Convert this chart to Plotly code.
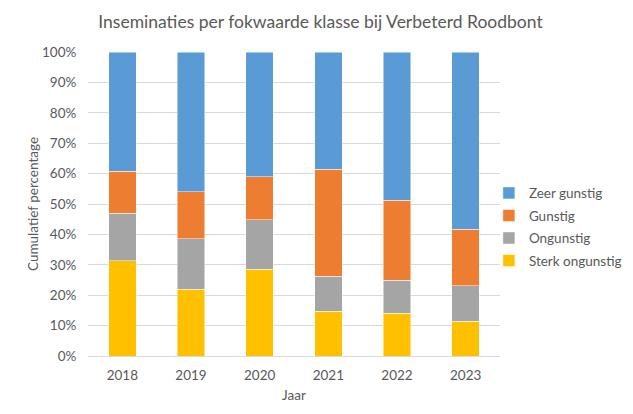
import plotly.graph_objects as go

years = ["2018", "2019", "2020", "2021", "2022", "2023"]
sterk_ongunstig = [31.4, 22.0, 28.5, 14.8, 14.1, 11.5]
ongunstig = [15.5, 16.6, 16.3, 11.4, 10.9, 11.6]
gunstig = [13.8, 15.5, 14.1, 35.3, 26.3, 18.6]
zeer_gunstig = [39.3, 45.9, 41.1, 38.5, 48.7, 58.3]
y_ticks = list(range(0, 101, 10))

series = [
    ("Sterk ongunstig", sterk_ongunstig, "#FFC000"),
    ("Ongunstig", ongunstig, "#A5A5A5"),
    ("Gunstig", gunstig, "#ED7D31"),
    ("Zeer gunstig", zeer_gunstig, "#5B9BD5"),
]

fig = go.Figure()
for i, (name, vals, col) in enumerate(series):
    fig.add_trace(go.Bar(x=years, y=vals, name=name, legendgroup=name, legendrank=1000 - i,
                         marker=dict(color=col, line=dict(color="rgba(255,255,255,0.6)", width=0.8))))

font = "Lato, 'Open Sans', sans-serif"
fig.update_layout(
    barmode="stack",
    bargap=0.6,
    width=625, height=406,
    margin=dict(l=80, r=133, t=44, b=58, autoexpand=False),
    paper_bgcolor="white", plot_bgcolor="white",
    font=dict(family=font, color="#595959", size=13),
    title=dict(text="Inseminaties per fokwaarde klasse bij Verbeterd Roodbont", x=0.5, xanchor="center", y=0.966, yanchor="middle",
               font=dict(size=17.5, color="#595959", family=font)),
    legend=dict(traceorder="grouped", x=0.973, xanchor="left", y=0.424, yanchor="middle",
                font=dict(size=13.5, color="#595959"), tracegroupgap=2, bgcolor="rgba(0,0,0,0)"),
    xaxis=dict(title=dict(text="Jaar", font=dict(size=13.5), standoff=8), showgrid=False, showline=True, linecolor="#d9d9d9",
               ticks="outside", ticklen=7, tickcolor="rgba(0,0,0,0)", tickfont=dict(size=13.5)),
    yaxis=dict(title=dict(text="Cumulatief percentage", font=dict(size=13.5), standoff=0), range=[0, 100], tickvals=y_ticks,
               ticktext=[f"{v}%" for v in y_ticks], showgrid=True, gridcolor="#d9d9d9", zeroline=False,
               ticks="outside", ticklen=8, tickcolor="rgba(0,0,0,0)", tickfont=dict(size=13.5)),
    shapes=[dict(type="rect", xref="paper", yref="paper", x0=-0.199, x1=1.6, y0=-0.4, y1=1.148, line=dict(color="#d9d9d9", width=1))],
)
fig.write_html("out.html")
